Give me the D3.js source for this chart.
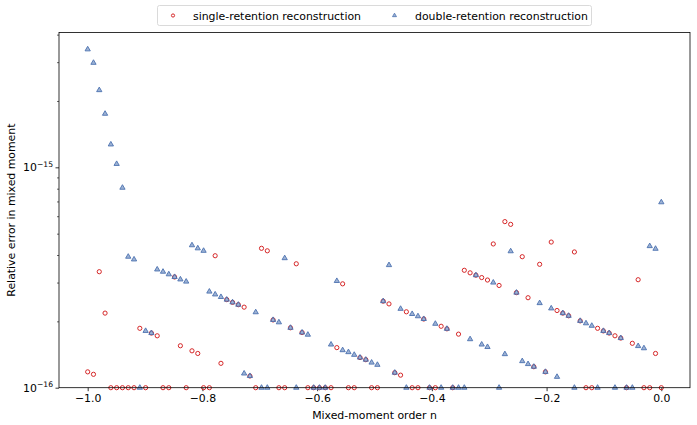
<!DOCTYPE html>
<html>
<head>
<meta charset="utf-8">
<script src="https://cdn.jsdelivr.net/npm/d3@7"></script>
<style>
  body { margin: 0; background: #fff; }
  svg { display: block; font-family: "DejaVu Sans", sans-serif; }
</style>
</head>
<body>
<div id="chart"></div>
<script>
var width = 697,
    height = 425,
    margin = {left: 59, right: 7, top: 32.5, bottom: 37.3},
    fs = 10.9;

// mixed-moment order n, 100 evenly spaced orders from -1 to 0
var nOrder = d3.range(100).map(function(i){ return -1 + i / 99; });

// relative error, single-retention reconstruction (1e-16 = floor)
var singleErr = [
  1.18e-16, 1.15e-16, 3.36e-16, 2.18e-16, 1e-16, 1e-16, 1e-16, 1e-16, 1e-16, 1.86e-16,
  1e-16, 1.77e-16, 1.72e-16, 1e-16, 1e-16, 3.18e-16, 1.55e-16, 1e-16, 1.47e-16, 1.43e-16,
  1e-16, 1e-16, 3.97e-16, 1.29e-16, 2.51e-16, 2.44e-16, 2.38e-16, 2.32e-16, 1.13e-16, 1e-16,
  4.29e-16, 4.18e-16, 2.03e-16, 1e-16, 1e-16, 1.87e-16, 3.65e-16, 1.78e-16, 1e-16, 1e-16,
  1e-16, 1e-16, 1e-16, 1.52e-16, 2.96e-16, 1e-16, 1e-16, 1.37e-16, 1.34e-16, 1e-16,
  1e-16, 2.47e-16, 2.40e-16, 1.17e-16, 1.14e-16, 2.21e-16, 1e-16, 1e-16, 2.05e-16, 1e-16,
  1e-16, 1.90e-16, 1.85e-16, 1e-16, 1.75e-16, 3.41e-16, 3.32e-16, 3.24e-16, 3.16e-16, 3.08e-16,
  4.49e-16, 2.91e-16, 5.67e-16, 5.51e-16, 2.70e-16, 3.93e-16, 2.56e-16, 1.245e-16, 3.63e-16, 1.18e-16,
  4.58e-16, 2.24e-16, 2.18e-16, 2.12e-16, 4.13e-16, 2.01e-16, 1e-16, 1e-16, 1.86e-16, 1.81e-16,
  1.77e-16, 1.72e-16, 1.68e-16, 1e-16, 1.59e-16, 3.09e-16, 1e-16, 1e-16, 1.43e-16, 1e-16
];

// relative error, double-retention reconstruction
var doubleErr = [
  3.43e-15, 2.98e-15, 2.24e-15, 1.75e-15, 1.27e-15, 1.036e-15, 8.08e-16, 3.93e-16, 3.82e-16, 1e-16,
  1.81e-16, 1.77e-16, 3.44e-16, 3.36e-16, 3.27e-16, 3.18e-16, 3.10e-16, 3.03e-16, 4.43e-16, 4.29e-16,
  4.18e-16, 2.73e-16, 2.65e-16, 2.58e-16, 2.51e-16, 2.44e-16, 2.38e-16, 1.16e-16, 1.13e-16, 2.20e-16,
  1e-16, 1e-16, 2.03e-16, 1.98e-16, 3.87e-16, 1.87e-16, 1e-16, 1.78e-16, 1.74e-16, 1e-16,
  1e-16, 1e-16, 1.57e-16, 3.05e-16, 1.48e-16, 1.45e-16, 1.41e-16, 1.37e-16, 1.34e-16, 1.30e-16,
  1.27e-16, 2.47e-16, 3.60e-16, 1.17e-16, 2.28e-16, 1e-16, 2.16e-16, 2.11e-16, 2.05e-16, 1e-16,
  1.95e-16, 1e-16, 1.85e-16, 1e-16, 1e-16, 1e-16, 1.66e-16, 3.24e-16, 1.57e-16, 1.53e-16,
  3.00e-16, 1e-16, 1.42e-16, 4.16e-16, 2.70e-16, 1.32e-16, 1.28e-16, 1.245e-16, 2.42e-16, 1.18e-16,
  2.29e-16, 1.12e-16, 2.18e-16, 2.12e-16, 1e-16, 2.01e-16, 1.96e-16, 1.91e-16, 1e-16, 1.81e-16,
  1.77e-16, 1e-16, 1.68e-16, 1e-16, 1e-16, 1.545e-16, 1.51e-16, 4.39e-16, 4.27e-16, 6.94e-16
];

var xTicks = [-1.0, -0.8, -0.6, -0.4, -0.2, 0.0];
var yMajor = [1e-16, 1e-15];
var yMinor = [2e-16, 3e-16, 4e-16, 5e-16, 6e-16, 7e-16, 8e-16, 9e-16, 2e-15, 3e-15, 4e-15];
var seriesNames = ["single-retention reconstruction", "double-retention reconstruction"];

var red = "#d62728",
    blue = "#4c72b0";

var svg = d3.select("#chart").append("svg")
    .attr("width", width)
    .attr("height", height);

var x = d3.scaleLinear()
    .domain([-1.05, 0.05])
    .range([margin.left, width - margin.right]);

var y = d3.scaleLog()
    .domain([1e-16, 4.09e-15])
    .range([height - margin.bottom, margin.top]);

var fmtX = function(d){ return d3.format(".1f")(d).replace("-", "\u2212"); };

// x axis
var xAxis = svg.append("g")
    .attr("transform", "translate(0," + (height - margin.bottom) + ")")
    .call(d3.axisBottom(x).tickValues(xTicks).tickFormat(fmtX).tickSize(3.5).tickPadding(3));
xAxis.select(".domain").remove();
xAxis.selectAll("text").attr("font-size", fs).attr("font-family", "DejaVu Sans").attr("fill", "#000");
xAxis.selectAll("line").attr("stroke", "#000").attr("stroke-width", 0.8);

// y axis minor ticks
var yMin = svg.append("g")
    .attr("transform", "translate(" + margin.left + ",0)")
    .call(d3.axisLeft(y).tickValues(yMinor).tickFormat("").tickSize(2));
yMin.select(".domain").remove();
yMin.selectAll("line").attr("stroke", "#000").attr("stroke-width", 0.6);

// y axis major ticks
var yAx = svg.append("g")
    .attr("transform", "translate(" + margin.left + ",0)")
    .call(d3.axisLeft(y).tickValues(yMajor).tickFormat("").tickSize(3.5));
yAx.select(".domain").remove();
yAx.selectAll("line").attr("stroke", "#000").attr("stroke-width", 0.8);

var yLab = svg.append("g");
yMajor.forEach(function(v){
    var t = yLab.append("text")
        .attr("x", margin.left - 6)
        .attr("y", y(v) + 4)
        .attr("text-anchor", "end")
        .attr("font-size", fs);
    t.append("tspan").text("10");
    t.append("tspan").attr("dy", -4.5).attr("font-size", 7.6)
        .text("\u2212" + Math.round(-Math.log10(v)));
});

// points
var plot = svg.append("g");

plot.selectAll(".single")
    .data(nOrder)
    .enter().append("circle")
    .attr("class", "single")
    .attr("cx", function(d){ return x(d); })
    .attr("cy", function(d, i){ return y(singleErr[i]); })
    .attr("r", 2.1)
    .attr("fill", "none")
    .attr("stroke", red)
    .attr("stroke-width", 1);

var tri = d3.symbol().type(d3.symbolTriangle).size(12);

plot.selectAll(".double")
    .data(nOrder)
    .enter().append("path")
    .attr("class", "double")
    .attr("d", tri)
    .attr("transform", function(d, i){ return "translate(" + x(d) + "," + y(doubleErr[i]) + ")"; })
    .attr("fill", blue)
    .attr("fill-opacity", 0.55)
    .attr("stroke", blue)
    .attr("stroke-width", 0.9);

// frame
svg.append("rect")
    .attr("x", margin.left)
    .attr("y", margin.top)
    .attr("width", width - margin.left - margin.right)
    .attr("height", height - margin.top - margin.bottom)
    .attr("fill", "none")
    .attr("stroke", "#000")
    .attr("stroke-width", 0.8);

// axis labels
svg.append("text")
    .attr("x", (margin.left + width - margin.right) / 2)
    .attr("y", 419)
    .attr("text-anchor", "middle")
    .attr("font-size", fs)
    .text("Mixed-moment order n");

svg.append("text")
    .attr("transform", "translate(15," + ((margin.top + height - margin.bottom) / 2) + ")rotate(-90)")
    .attr("text-anchor", "middle")
    .attr("font-size", fs)
    .text("Relative error in mixed moment");

// legend
var leg = svg.append("g");
leg.append("rect")
    .attr("x", 157.5).attr("y", 5.5)
    .attr("width", 434).attr("height", 20)
    .attr("rx", 2)
    .attr("fill", "#fff")
    .attr("stroke", "#d0d0d0")
    .attr("stroke-width", 0.8);

leg.append("circle")
    .attr("cx", 173).attr("cy", 15.5).attr("r", 1.6)
    .attr("fill", "none").attr("stroke", red).attr("stroke-width", 1);
leg.append("text")
    .attr("x", 193).attr("y", 19.5)
    .attr("font-size", fs)
    .text(seriesNames[0]);

leg.append("path")
    .attr("d", d3.symbol().type(d3.symbolTriangle).size(7))
    .attr("transform", "translate(394.5,15.5)")
    .attr("fill", blue).attr("fill-opacity", 0.55)
    .attr("stroke", blue).attr("stroke-width", 0.8);
leg.append("text")
    .attr("x", 415).attr("y", 19.5)
    .attr("font-size", fs)
    .text(seriesNames[1]);
</script>
</body>
</html>
